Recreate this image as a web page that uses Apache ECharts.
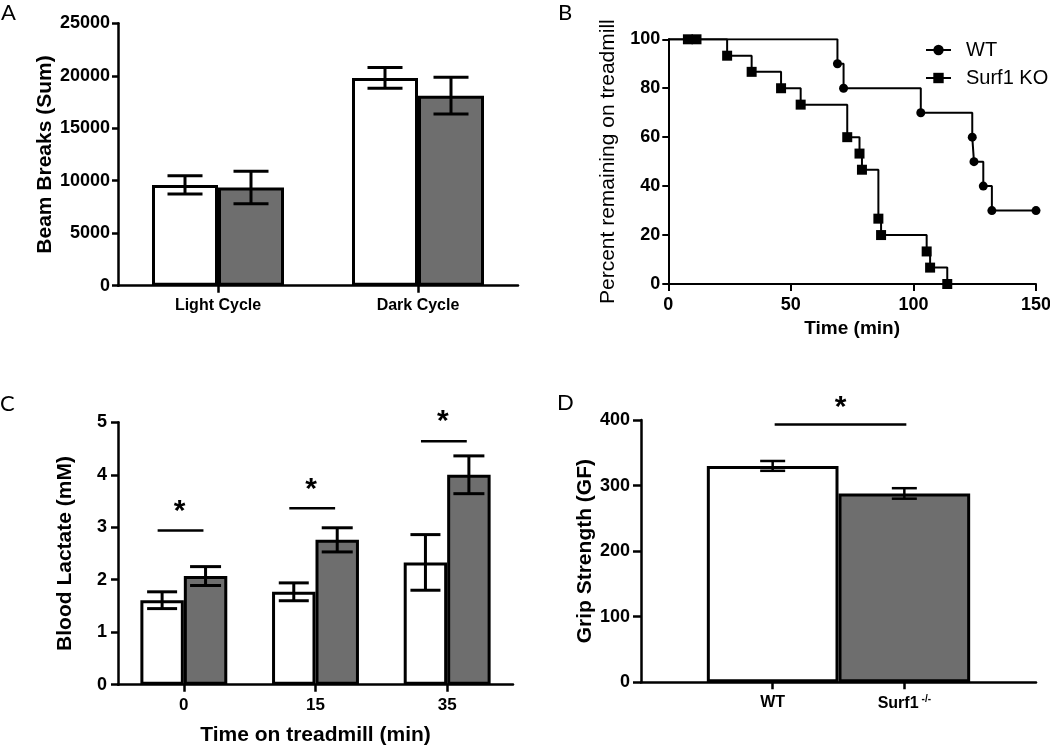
<!DOCTYPE html>
<html><head><meta charset="utf-8">
<script src="https://cdn.jsdelivr.net/npm/echarts@6/dist/echarts.min.js"></script>
<style>html,body{margin:0;padding:0;background:#fff}#c{width:1050px;height:747px}</style>
</head><body><div id="c"></div>
<script>
// ---------- Panel A : beam breaks ----------
const aCategories = ['Light Cycle', 'Dark Cycle'];
const aWT = [9600, 19800];
const aWTErr = [870, 990];
const aKO = [9350, 18100];
const aKOErr = [1550, 1750];

// ---------- Panel B : treadmill survival ----------
const bWTTime = [0, 69, 71.5, 103, 124, 124.7, 128.5, 132, 150];
const bWTPct = [100, 90, 80, 70, 60, 50, 40, 30, 30];
const bKOTime = [0, 8, 11.5, 24, 34, 46, 54, 73, 78, 79, 85.7, 86.8, 105.4, 106.8, 113.8];
const bKOPct = [100, 100, 100, 93.3, 86.7, 80, 73.3, 60, 53.3, 46.7, 26.7, 20, 13.3, 6.7, 0];

// ---------- Panel C : blood lactate ----------
const cCategories = ['0', '15', '35'];
const cWT = [1.61, 1.77, 2.33];
const cWTErr = [0.16, 0.17, 0.53];
const cKO = [2.07, 2.76, 4.0];
const cKOErr = [0.18, 0.23, 0.36];
const cSigY = [2.94, 3.36, 4.64];

// ---------- Panel D : grip strength ----------
const dCategories = ['WT', 'Surf1'];
const dMeans = [330, 288];
const dErr = [7.5, 8];
const dSigY = 393;

const FONT = '"Liberation Sans", Arial, sans-serif';
const GRAY = '#6e6e6e';
const chart = echarts.init(document.getElementById('c'), null, {renderer: 'canvas'});

function axisLineStyle(w) { return {show: true, lineStyle: {color: '#000', width: w}}; }
function tickStyle(len, w) { return {show: true, length: len, lineStyle: {color: '#000', width: w}}; }
function labelStyle(size, margin) {
  return {color: '#000', fontFamily: FONT, fontWeight: 'bold', fontSize: size, margin: margin,
          formatter: function (v) { return String(v); }};
}

function errorBars(gi, means, errs, offFrac, capW, lw, idxShift) {
  return {
    type: 'custom', xAxisIndex: gi, yAxisIndex: gi, z: 10, silent: true,
    data: means.map((m, i) => [i + (idxShift || 0), m, errs[i]]),
    renderItem: function (params, api) {
      const i = api.value(0), m = api.value(1), e = api.value(2);
      const band = api.size([1, 0])[0];
      const hi = api.coord([i, m + e]);
      const lo = api.coord([i, m - e]);
      const x = hi[0] + offFrac * band;
      const st = {stroke: '#000', lineWidth: lw};
      return {type: 'group', children: [
        {type: 'line', shape: {x1: x, y1: hi[1], x2: x, y2: lo[1]}, style: st},
        {type: 'line', shape: {x1: x - capW / 2, y1: hi[1], x2: x + capW / 2, y2: hi[1]}, style: st},
        {type: 'line', shape: {x1: x - capW / 2, y1: lo[1], x2: x + capW / 2, y2: lo[1]}, style: st}
      ]};
    }
  };
}

function star(x, y) {
  return {type: 'text', style: {text: '*', x: x, y: y, textAlign: 'center', textVerticalAlign: 'middle',
    font: 'bold 30px ' + FONT, fill: '#000'}};
}

const barBorder = {borderColor: '#000', borderWidth: 3};

const option = {
  animation: false,
  backgroundColor: '#fff',
  textStyle: {fontFamily: FONT},
  grid: [
    {left: 118, top: 23.3, width: 400, height: 262.4, outerBoundsMode: 'none', containLabel: false},
    {left: 668.3, top: 39.3, width: 367.7, height: 244.7, outerBoundsMode: 'none', containLabel: false},
    {left: 118, top: 422.3, width: 395, height: 262.4, outerBoundsMode: 'none', containLabel: false},
    {left: 641, top: 420, width: 395, height: 262.3, outerBoundsMode: 'none', containLabel: false}
  ],
  xAxis: [
    {gridIndex: 0, type: 'category', data: aCategories, boundaryGap: true,
     axisLine: axisLineStyle(2.5), axisTick: Object.assign(tickStyle(7, 2.5), {alignWithLabel: true}),
     axisLabel: labelStyle(16, 12), splitLine: {show: false}},
    {gridIndex: 1, type: 'value', min: 0, max: 150, interval: 50,
     axisLine: axisLineStyle(2), axisTick: tickStyle(7, 2), axisLabel: labelStyle(18, 12), splitLine: {show: false},
     name: 'Time (min)', nameLocation: 'middle', nameGap: 35,
     nameTextStyle: {color: '#000', fontFamily: FONT, fontWeight: 'bold', fontSize: 19}},
    {gridIndex: 2, type: 'category', data: cCategories, boundaryGap: true,
     axisLine: axisLineStyle(2.5), axisTick: Object.assign(tickStyle(7, 2.5), {alignWithLabel: true}),
     axisLabel: labelStyle(17, 12), splitLine: {show: false},
     name: 'Time on treadmill (min)', nameLocation: 'middle', nameGap: 40,
     nameTextStyle: {color: '#000', fontFamily: FONT, fontWeight: 'bold', fontSize: 21}},
    {gridIndex: 3, type: 'category', data: [''].concat(dCategories, ['']), boundaryGap: false,
     axisLine: axisLineStyle(2.5),
     axisTick: Object.assign(tickStyle(7, 2.5), {interval: function (i) { return i > 0 && i <= dCategories.length; }}),
     axisLabel: Object.assign(labelStyle(16, 12), {interval: 0,
       formatter: function (v) { return v === 'Surf1' ? '{b|Surf1}{s|-/-}' : v; },
       rich: {b: {fontFamily: FONT, fontWeight: 'bold', fontSize: 16, color: '#000'},
              s: {fontFamily: FONT, fontWeight: 'bold', fontSize: 10, color: '#000', verticalAlign: 'top', padding: [0, 0, 8, 3]}}}),
     splitLine: {show: false}}
  ],
  yAxis: [
    {gridIndex: 0, type: 'value', min: 0, max: 25000, interval: 5000,
     axisLine: axisLineStyle(2.5), axisTick: tickStyle(6, 2.5), axisLabel: labelStyle(18, 8), splitLine: {show: false},
     name: 'Beam Breaks (Sum)', nameLocation: 'middle', nameGap: 62, nameRotate: 90,
     nameTextStyle: {color: '#000', fontFamily: FONT, fontWeight: 'bold', fontSize: 21}},
    {gridIndex: 1, type: 'value', min: 0, max: 100, interval: 20,
     axisLine: axisLineStyle(2), axisTick: tickStyle(6, 2), axisLabel: labelStyle(18, 8), splitLine: {show: false},
     name: 'Percent remaining on treadmill', nameLocation: 'middle', nameGap: 50, nameRotate: 90,
     nameTextStyle: {color: '#000', fontFamily: FONT, fontWeight: 'normal', fontSize: 21}},
    {gridIndex: 2, type: 'value', min: 0, max: 5, interval: 1,
     axisLine: axisLineStyle(2.5), axisTick: tickStyle(7, 2.5), axisLabel: labelStyle(18, 11), splitLine: {show: false},
     name: 'Blood Lactate (mM)', nameLocation: 'middle', nameGap: 42, nameRotate: 90,
     nameTextStyle: {color: '#000', fontFamily: FONT, fontWeight: 'bold', fontSize: 21}},
    {gridIndex: 3, type: 'value', min: 0, max: 400, interval: 100,
     axisLine: axisLineStyle(2.5), axisTick: tickStyle(8, 2.5), axisLabel: labelStyle(18, 11), splitLine: {show: false},
     name: 'Grip Strength (GF)', nameLocation: 'middle', nameGap: 42, nameRotate: 90,
     nameTextStyle: {color: '#000', fontFamily: FONT, fontWeight: 'bold', fontSize: 21}}
  ],
  legend: {
    show: true, orient: 'vertical', left: 920, top: 35, itemWidth: 25, itemHeight: 13, itemGap: 8,
    data: ['WT', 'Surf1 KO'],
    textStyle: {color: '#000', fontFamily: FONT, fontSize: 20, fontWeight: 'normal', padding: [0, 0, 0, 10]}
  },
  graphic: [
    {type: 'text', left: 1, top: 2, style: {text: 'A', font: '22px Lato, sans-serif', fill: '#000'}},
    {type: 'text', left: 558, top: 2, style: {text: 'B', font: '22px Lato, sans-serif', fill: '#000'}},
    {type: 'text', left: 0, top: 393, style: {text: 'C', font: '22px Lato, sans-serif', fill: '#000'}},
    {type: 'text', left: 557, top: 392, style: {text: 'D', font: '22px Lato, sans-serif', fill: '#000'}}
  ],
  series: [
    // Panel A bars
    {type: 'bar', xAxisIndex: 0, yAxisIndex: 0, data: aWT, barGap: '0%', barCategoryGap: '34%',
     itemStyle: Object.assign({color: '#fff'}, barBorder), silent: true},
    {type: 'bar', xAxisIndex: 0, yAxisIndex: 0, data: aKO, barGap: '0%', barCategoryGap: '34%',
     itemStyle: Object.assign({color: GRAY}, barBorder), silent: true},
    errorBars(0, aWT, aWTErr, -0.165, 35, 3),
    errorBars(0, aKO, aKOErr, 0.165, 35, 3),

    // Panel B KM curves
    {type: 'line', name: 'WT', xAxisIndex: 1, yAxisIndex: 1, step: 'end', showSymbol: true,
     symbol: 'circle', symbolSize: 9, color: '#000',
     lineStyle: {color: '#000', width: 2}, itemStyle: {color: '#000'},
     data: bWTTime.map((t, i) => i === 0 ? {value: [t, bWTPct[i]], symbol: 'none'} : [t, bWTPct[i]])},
    {type: 'line', name: 'Surf1 KO', xAxisIndex: 1, yAxisIndex: 1, step: 'end', showSymbol: true,
     symbol: 'rect', symbolSize: 10, color: '#000',
     lineStyle: {color: '#000', width: 2}, itemStyle: {color: '#000'},
     data: bKOTime.map((t, i) => i === 0 ? {value: [t, bKOPct[i]], symbol: 'none'} : [t, bKOPct[i]])},

    // Panel C bars
    {type: 'bar', xAxisIndex: 2, yAxisIndex: 2, data: cWT, barGap: '0%', barCategoryGap: '34%',
     itemStyle: Object.assign({color: '#fff'}, barBorder), silent: true},
    {type: 'bar', xAxisIndex: 2, yAxisIndex: 2, data: cKO, barGap: '0%', barCategoryGap: '34%',
     itemStyle: Object.assign({color: GRAY}, barBorder), silent: true},
    errorBars(2, cWT, cWTErr, -0.165, 30, 3),
    errorBars(2, cKO, cKOErr, 0.165, 31, 3),
    {type: 'custom', xAxisIndex: 2, yAxisIndex: 2, z: 10, silent: true,
     data: cSigY.map((y, i) => [i, y]),
     renderItem: function (params, api) {
       const p = api.coord([api.value(0), api.value(1)]);
       const band = api.size([1, 0])[0];
       const cx = p[0] - 0.025 * band, hw = 0.174 * band;
       return {type: 'group', children: [
         {type: 'line', shape: {x1: cx - hw, y1: p[1], x2: cx + hw, y2: p[1]}, style: {stroke: '#000', lineWidth: 2.5}},
         star(cx - 1, p[1] - 19)
       ]};
     }},

    // Panel D bars
    {type: 'bar', xAxisIndex: 3, yAxisIndex: 3, barCategoryGap: '0%', silent: true,
     itemStyle: barBorder,
     data: ['-'].concat(dMeans.map((v, i) => ({value: v, itemStyle: {color: i === 0 ? '#fff' : GRAY}})), ['-'])},
    errorBars(3, dMeans, dErr, 0, 25, 2.5, 1),
    {type: 'custom', xAxisIndex: 3, yAxisIndex: 3, z: 10, silent: true,
     data: [[1, 2, dSigY]],
     renderItem: function (params, api) {
       const a = api.coord([api.value(0), api.value(2)]);
       const b = api.coord([api.value(1), api.value(2)]);
       return {type: 'group', children: [
         {type: 'line', shape: {x1: a[0] + 2, y1: a[1], x2: b[0] + 2, y2: b[1]}, style: {stroke: '#000', lineWidth: 2.5}},
         star((a[0] + b[0]) / 2 + 2, a[1] - 17)
       ]};
     }}
  ]
};
chart.setOption(option);
</script></body></html>
